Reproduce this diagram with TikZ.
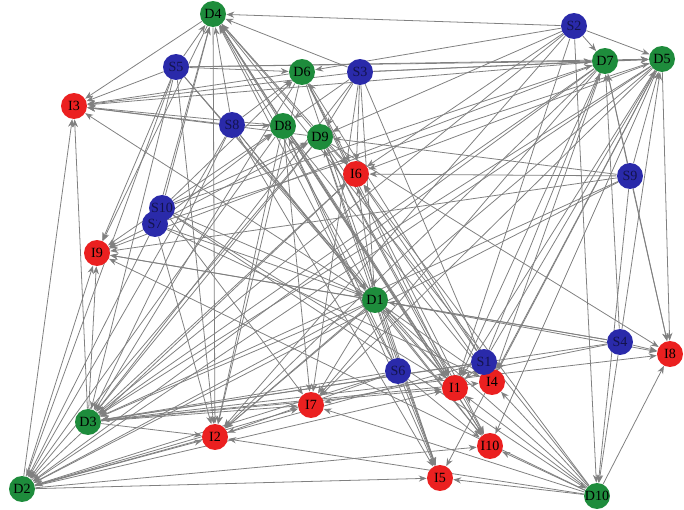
\documentclass[tikz,border=0pt]{standalone}
\usepackage{fontspec}
\setmainfont{Liberation Serif}
\usetikzlibrary{arrows.meta,backgrounds}
\definecolor{dgreen}{RGB}{30,140,60}
\definecolor{dred}{RGB}{235,32,32}
\definecolor{dblue}{RGB}{42,42,170}
\definecolor{edge}{RGB}{128,128,128}
\begin{document}
\begin{tikzpicture}[x=0.02cm,y=-0.02cm,
  vert/.style={circle,inner sep=0pt,minimum size=0.52cm,font=\footnotesize},
  dnode/.style={vert,fill=dgreen,text=black},
  inode/.style={vert,fill=dred,text=black},
  snode/.style={vert,fill=dblue,text=dblue!45!black},
  link/.style={draw=edge,line width=0.45pt,-{Stealth[length=4.5pt,width=3.5pt]}}]
\useasboundingbox (0,0) rectangle (684,510);
% demand nodes
\node[dnode] (D1) at (375,300) {D1};\node[dnode] (D2) at (22,489) {D2};
\node[dnode] (D3) at (88,422) {D3};\node[dnode] (D4) at (213,14) {D4};
\node[dnode] (D5) at (662,59) {D5};\node[dnode] (D6) at (302,72) {D6};
\node[dnode] (D7) at (605,61) {D7};\node[dnode] (D8) at (283,126) {D8};
\node[dnode] (D9) at (320,137) {D9};\node[dnode] (D10) at (597,496) {D10};
% intermediate nodes
\node[inode] (I1) at (455,388) {I1};\node[inode] (I2) at (215,437) {I2};
\node[inode] (I3) at (74,106) {I3};\node[inode] (I4) at (492,382) {I4};
\node[inode] (I5) at (440,478) {I5};\node[inode] (I6) at (356,174) {I6};
\node[inode] (I7) at (311,405) {I7};\node[inode] (I8) at (670,354) {I8};
\node[inode] (I9) at (97,253) {I9};\node[inode] (I10) at (490,446) {I10};
% supply nodes
\node[snode] (S1) at (484,362) {S1};\node[snode] (S2) at (574,26) {S2};
\node[snode] (S3) at (360,72) {S3};\node[snode] (S4) at (620,342) {S4};
\node[snode] (S5) at (176,67) {S5};\node[snode] (S6) at (398,371) {S6};
\node[snode] (S7) at (155,224) {S7};\node[snode] (S8) at (232,125) {S8};
\node[snode] (S9) at (630,176) {S9};\node[snode] (S10) at (162,208) {S10};
\begin{scope}[on background layer]
\foreach \s/\t in {S5/D4,S5/D6,S5/D7,S5/D5,S5/I3,S5/I9,S5/D3,S5/I2,S5/D1,S5/I1,S5/D2,
  S3/D4,S3/D7,S3/D5,S3/I6,S3/I3,S3/D8,S3/D9,S3/D1,S3/I4,S3/I7,S3/D3,
  S8/D4,S8/D6,S8/D8,S8/I3,S8/D1,S8/I10,S8/I5,S8/D3,S8/D2,
  S2/D4,S2/D7,S2/D5,S2/D6,S2/D9,S2/I6,S2/D3,S2/I2,S2/D10,S2/I1,
  S9/D7,S9/D5,S9/I6,S9/I8,S9/D10,S9/D2,S9/I9,S9/D9,S9/D3,
  S10/D4,S10/D6,S10/D8,S10/D9,S10/D7,S10/I9,S10/I1,S10/D10,S10/I7,S10/D1,
  S7/D4,S7/D8,S7/D9,S7/D5,S7/I9,S7/I2,S7/D2,S7/I4,S7/D1,
  S4/I8,S4/D10,S4/D7,S4/D5,S4/D3,S4/I7,S4/D1,S4/I9,
  S6/D8,S6/D9,S6/I5,S6/I10,S6/D2,S6/I2,S6/D3,S6/D4,
  S1/D7,S1/D5,S1/I4,S1/I1,S1/D2,S1/D3,S1/I6,S1/D6}
  \draw[link] (\s) -- (\t);
\foreach \s/\t in {D1/I1,D1/I4,D1/I10,D1/I5,D1/I8,D1/I7,D1/I2,D1/I9,D1/I3,D1/I6,
  D2/I3,D2/I9,D2/I2,D2/I7,D2/I5,D2/I1,D2/I6,D2/I10,
  D3/I9,D3/I2,D3/I7,D3/I1,D3/I4,D3/I8,D3/I6,D3/I3,
  D4/I3,D4/I9,D4/I6,D4/I1,D4/I10,D4/I2,
  D5/I8,D5/I2,D5/I7,D5/I10,D5/I5,D5/I1,D5/I4,D5/I6,
  D6/I3,D6/I6,D6/I1,D6/I10,D6/I5,D6/I2,
  D7/I3,D7/I2,D7/I7,D7/I1,D7/I4,D7/I9,D7/I8,
  D8/I3,D8/I1,D8/I5,D8/I10,D8/I2,D8/I7,D8/I4,
  D9/I3,D9/I6,D9/I1,D9/I4,D9/I10,D9/I5,D9/I8,
  D10/I5,D10/I10,D10/I1,D10/I4,D10/I8,D10/I2,D10/I7,D10/I6,D10/I9}
  \draw[link] (\s) -- (\t);
% links between demand nodes
\foreach \s/\t in {D5/D3,D7/D3,D9/D3,D6/D3,D1/D3,D8/D2,D7/D2,D5/D2,D1/D2,D9/D2,
  D8/D4,D9/D4,D1/D4,D10/D4,D7/D5,D10/D1}
  \draw[link] (\s) -- (\t);
\end{scope}
\end{tikzpicture}
\end{document}
